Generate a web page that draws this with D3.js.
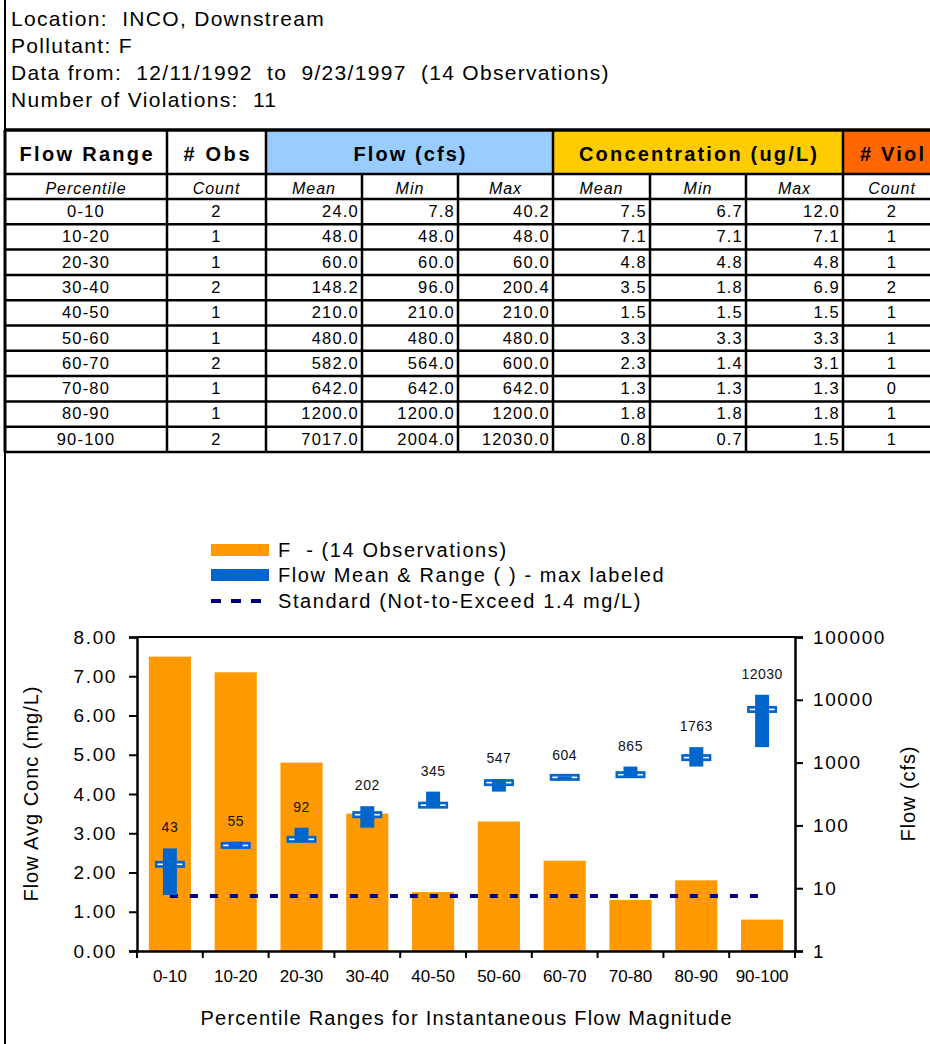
<!DOCTYPE html>
<html>
<head>
<meta charset="utf-8">
<script src="https://cdn.jsdelivr.net/npm/d3@7"></script>
<style>
  body { margin: 0; background: #fff; }
  svg { display: block; font-family: "Liberation Sans", Arial, sans-serif; }
  text { white-space: pre; }
</style>
</head>
<body>
<svg id="chart" width="930" height="1044"></svg>
<script>
// ---- data ----
const infoLines = [
  "Location:  INCO, Downstream",
  "Pollutant: F",
  "Data from:  12/11/1992  to  9/23/1997  (14 Observations)",
  "Number of Violations:  11"
];
const ranges = ["0-10", "10-20", "20-30", "30-40", "40-50", "50-60", "60-70", "70-80", "80-90", "90-100"];
const obsCount = [2, 1, 1, 2, 1, 1, 2, 1, 1, 2];
const flowMean = [24.0, 48.0, 60.0, 148.2, 210.0, 480.0, 582.0, 642.0, 1200.0, 7017.0];
const flowMin = [7.8, 48.0, 60.0, 96.0, 210.0, 480.0, 564.0, 642.0, 1200.0, 2004.0];
const flowMax = [40.2, 48.0, 60.0, 200.4, 210.0, 480.0, 600.0, 642.0, 1200.0, 12030.0];
const concMean = [7.5, 7.1, 4.8, 3.5, 1.5, 3.3, 2.3, 1.3, 1.8, 0.8];
const concMin = [6.7, 7.1, 4.8, 1.8, 1.5, 3.3, 1.4, 1.3, 1.8, 0.7];
const concMax = [12.0, 7.1, 4.8, 6.9, 1.5, 3.3, 3.1, 1.3, 1.8, 1.5];
const violCount = [2, 1, 1, 2, 1, 1, 1, 0, 1, 1];
// flow range of each percentile bin (upper bound is the labeled max)
const rangeLow = [7.8, 43, 55, 92, 202, 345, 547, 604, 865, 1763];
const rangeHigh = [43, 55, 92, 202, 345, 547, 604, 865, 1763, 12030];
const standard = 1.4;
const concTicks = [0, 1, 2, 3, 4, 5, 6, 7, 8];
const flowTicks = [1, 10, 100, 1000, 10000, 100000];
const legendItems = [
  "F  - (14 Observations)",
  "Flow Mean & Range ( ) - max labeled",
  "Standard (Not-to-Exceed 1.4 mg/L)"
];

const orange = "#FF9900", blue = "#0066CC", navy = "#000080";

const svg = d3.select("#chart");

// page frame
svg.append("line")
  .attr("x1", 5).attr("x2", 5).attr("y1", 0).attr("y2", 1044)
  .attr("stroke", "#000").attr("stroke-width", 2);

// ---- info block ----
svg.append("g").selectAll("text")
  .data(infoLines)
  .enter().append("text")
  .attr("x", 11)
  .attr("y", (d, i) => 26 + i * 27)
  .attr("font-size", 21)
  .attr("letter-spacing", 1.3)
  .text(d => d);

// ---- table ----
const colEdges = [5, 167, 266, 362, 458, 553, 650, 746, 843, 945];
const tableTop = 130, headBottom = 174, subBottom = 199, rowH = 25.3;
const tableBottom = subBottom + rowH * ranges.length;

const groups = [
  { label: "Flow Range", from: 0, to: 1, fill: "#fff", len: 133 },
  { label: "# Obs", from: 1, to: 2, fill: "#fff", len: 66 },
  { label: "Flow (cfs)", from: 2, to: 5, fill: "#99CCFF", len: 112 },
  { label: "Concentration (ug/L)", from: 5, to: 8, fill: "#FFCC00", len: 238 },
  { label: "# Viol", from: 8, to: 9, fill: "#FF6600", len: 64 }
];
const subLabels = ["Percentile", "Count", "Mean", "Min", "Max", "Mean", "Min", "Max", "Count"];

const table = svg.append("g");

table.selectAll("rect.head")
  .data(groups)
  .enter().append("rect")
  .attr("class", "head")
  .attr("x", d => colEdges[d.from])
  .attr("y", tableTop)
  .attr("width", d => colEdges[d.to] - colEdges[d.from])
  .attr("height", headBottom - tableTop)
  .attr("fill", d => d.fill);

table.selectAll("text.head")
  .data(groups)
  .enter().append("text")
  .attr("class", "head")
  .attr("x", d => d.from === 8 ? 892 : (colEdges[d.from] + colEdges[d.to]) / 2)
  .attr("y", 161)
  .attr("text-anchor", "middle")
  .attr("font-size", 20)
  .attr("font-weight", "bold")
  .attr("textLength", d => d.len)
  .text(d => d.label);

table.selectAll("text.sub")
  .data(subLabels)
  .enter().append("text")
  .attr("class", "sub")
  .attr("x", (d, i) => i === 8 ? 892 : (colEdges[i] + colEdges[i + 1]) / 2)
  .attr("y", 194)
  .attr("text-anchor", "middle")
  .attr("font-size", 16)
  .attr("font-style", "italic")
  .attr("letter-spacing", 1)
  .text(d => d);

const rows = ranges.map((r, i) => [
  r, obsCount[i],
  flowMean[i].toFixed(1), flowMin[i].toFixed(1), flowMax[i].toFixed(1),
  concMean[i].toFixed(1), concMin[i].toFixed(1), concMax[i].toFixed(1),
  violCount[i]
]);

const rowG = table.selectAll("g.row")
  .data(rows)
  .enter().append("g")
  .attr("class", "row")
  .attr("transform", (d, i) => `translate(0, ${subBottom + i * rowH})`);

rowG.selectAll("text")
  .data(d => d)
  .enter().append("text")
  .attr("x", (d, j) => {
    if (j === 0 || j === 1) return (colEdges[j] + colEdges[j + 1]) / 2;
    if (j === 8) return 892;
    return colEdges[j + 1] - 3;
  })
  .attr("y", 18)
  .attr("text-anchor", (d, j) => (j === 0 || j === 1 || j === 8) ? "middle" : "end")
  .attr("font-size", 16.5)
  .attr("letter-spacing", 1.2)
  .text(d => d);

// table grid
const hLines = [tableTop, headBottom, subBottom].concat(ranges.map((r, i) => subBottom + (i + 1) * rowH));
table.selectAll("line.h")
  .data(hLines)
  .enter().append("line")
  .attr("class", "h")
  .attr("x1", 5).attr("x2", 930)
  .attr("y1", d => d).attr("y2", d => d)
  .attr("stroke", "#000")
  .attr("stroke-width", (d, i) => i === 0 ? 3.5 : 2.5);

table.selectAll("line.v")
  .data(colEdges.slice(0, 9))
  .enter().append("line")
  .attr("class", "v")
  .attr("x1", d => d).attr("x2", d => d)
  .attr("y1", (d, i) => [3, 4, 6, 7].includes(i) ? headBottom : tableTop)
  .attr("y2", tableBottom)
  .attr("stroke", "#000")
  .attr("stroke-width", (d, i) => i === 0 ? 3 : 2.5);

// ---- chart ----
const margin = { top: 637, right: 135, bottom: 93, left: 137 };
const width = 930 - margin.left - margin.right;
const height = 1044 - margin.top - margin.bottom;

const x = d3.scaleBand()
  .domain(ranges)
  .range([0, width])
  .paddingInner(0.36)
  .paddingOuter(0.18);

const xTick = d3.scaleBand().domain(ranges).range([0, width]);

const y = d3.scaleLinear().domain([0, 8]).range([height, 0]);
const yFlow = d3.scaleLog().domain([1, 100000]).range([height, 0]);

const g = svg.append("g")
  .attr("transform", `translate(${margin.left}, ${margin.top})`);

// frame top line
g.append("line")
  .attr("x1", 0).attr("x2", width).attr("y1", 0).attr("y2", 0)
  .attr("stroke", "#000").attr("stroke-width", 2);

// concentration bars
g.selectAll(".bar")
  .data(concMean)
  .enter().append("rect")
  .attr("class", "bar")
  .attr("x", (d, i) => x(ranges[i]))
  .attr("y", d => y(d))
  .attr("width", x.bandwidth())
  .attr("height", d => height - y(d))
  .attr("fill", orange);

// standard line
const cx = r => xTick(r) + xTick.bandwidth() / 2;
g.append("line")
  .attr("x1", cx(ranges[0]))
  .attr("x2", cx(ranges[ranges.length - 1]))
  .attr("y1", y(standard)).attr("y2", y(standard))
  .attr("stroke", navy)
  .attr("stroke-width", 4)
  .attr("stroke-dasharray", "8,12");

// flow mean markers (blue dash with thin white core)
g.selectAll(".mean")
  .data(ranges)
  .enter().append("rect")
  .attr("class", "mean")
  .attr("x", d => cx(d) - 15)
  .attr("y", (d, i) => yFlow(flowMean[i]) - 3.5)
  .attr("width", 30)
  .attr("height", 7)
  .attr("fill", blue);

g.selectAll(".meancore")
  .data(ranges)
  .enter().append("rect")
  .attr("class", "meancore")
  .attr("x", d => cx(d) - 12.5)
  .attr("y", (d, i) => yFlow(flowMean[i]) - 0.8)
  .attr("width", 25)
  .attr("height", 1.6)
  .attr("fill", "#fff");

// flow range bars
g.selectAll(".range")
  .data(ranges)
  .enter().append("rect")
  .attr("class", "range")
  .attr("x", d => cx(d) - 7)
  .attr("y", (d, i) => yFlow(rangeHigh[i]))
  .attr("width", 14)
  .attr("height", (d, i) => yFlow(rangeLow[i]) - yFlow(rangeHigh[i]))
  .attr("fill", blue);

// max labels
g.selectAll(".maxlabel")
  .data(ranges)
  .enter().append("text")
  .attr("class", "maxlabel")
  .attr("x", d => cx(d))
  .attr("y", (d, i) => yFlow(rangeHigh[i]) - 16)
  .attr("text-anchor", "middle")
  .attr("font-size", 14)
  .attr("letter-spacing", 0.5)
  .attr("fill", "#111")
  .text((d, i) => rangeHigh[i]);

// axes
const xAxis = d3.axisBottom(xTick).tickSize(0).tickPadding(0);
const yAxis = d3.axisLeft(y).tickValues(concTicks).tickFormat(d3.format(".2f")).tickSize(8).tickPadding(12);
const yAxisRight = d3.axisRight(yFlow).tickValues(flowTicks).tickFormat(d3.format("d")).tickSize(8).tickPadding(10);

const gx = g.append("g")
  .attr("class", "x axis")
  .attr("transform", `translate(0, ${height})`)
  .call(xAxis);
gx.select(".domain").attr("stroke-width", 2.5);
gx.selectAll(".tick text")
  .attr("y", 19)
  .attr("font-size", 17)
  .attr("font-family", "'Liberation Sans', Arial, sans-serif")
  .attr("fill", "#000");
// category boundary ticks
gx.selectAll("line.sep")
  .data(d3.range(ranges.length + 1))
  .enter().append("line")
  .attr("class", "sep")
  .attr("x1", d => d * xTick.step()).attr("x2", d => d * xTick.step())
  .attr("y1", 0).attr("y2", 7)
  .attr("stroke", "#000").attr("stroke-width", 2);

const gy = g.append("g")
  .attr("class", "y axis")
  .call(yAxis);
gy.select(".domain").attr("stroke-width", 2.5);
gy.selectAll(".tick line").attr("stroke-width", 2);
gy.selectAll(".tick text")
  .attr("font-size", 19)
  .attr("letter-spacing", 1.6)
  .attr("font-family", "'Liberation Sans', Arial, sans-serif")
  .attr("fill", "#000");

const gyr = g.append("g")
  .attr("class", "y axis right")
  .attr("transform", `translate(${width}, 0)`)
  .call(yAxisRight);
gyr.select(".domain").attr("stroke-width", 2.5);
gyr.selectAll(".tick line").attr("stroke-width", 2);
gyr.selectAll(".tick text")
  .attr("font-size", 19)
  .attr("letter-spacing", 1.6)
  .attr("font-family", "'Liberation Sans', Arial, sans-serif")
  .attr("fill", "#000");

// axis titles
g.append("text")
  .attr("transform", `translate(${-99}, ${height / 2}) rotate(-90)`)
  .attr("text-anchor", "middle")
  .attr("font-size", 20)
  .attr("textLength", 215)
  .text("Flow Avg Conc (mg/L)");

g.append("text")
  .attr("transform", `translate(${width + 120}, ${height / 2}) rotate(-90)`)
  .attr("text-anchor", "middle")
  .attr("font-size", 20)
  .attr("textLength", 95)
  .text("Flow (cfs)");

g.append("text")
  .attr("x", width / 2)
  .attr("y", height + 74)
  .attr("text-anchor", "middle")
  .attr("font-size", 20)
  .attr("textLength", 531)
  .text("Percentile Ranges for Instantaneous Flow Magnitude");

// ---- legend ----
const legend = svg.append("g").attr("transform", "translate(211, 0)");
const legendY = [550, 575, 601];

legend.append("rect")
  .attr("x", 0).attr("y", legendY[0] - 6).attr("width", 58).attr("height", 12)
  .attr("fill", orange);
legend.append("rect")
  .attr("x", 0).attr("y", legendY[1] - 6).attr("width", 58).attr("height", 12)
  .attr("fill", blue);
legend.append("line")
  .attr("x1", 0).attr("x2", 58).attr("y1", legendY[2]).attr("y2", legendY[2])
  .attr("stroke", navy).attr("stroke-width", 4)
  .attr("stroke-dasharray", "10,10");

legend.selectAll("text")
  .data(legendItems)
  .enter().append("text")
  .attr("x", 67)
  .attr("y", (d, i) => legendY[i] + 7)
  .attr("font-size", 20)
  .attr("letter-spacing", 1.6)
  .text(d => d);
</script>
</body>
</html>
